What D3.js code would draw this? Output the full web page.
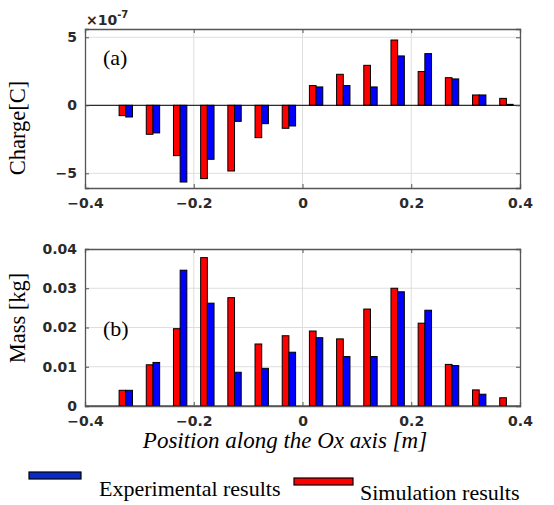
<!DOCTYPE html>
<html><head><meta charset="utf-8">
<script src="https://cdn.jsdelivr.net/npm/d3@7"></script>
<style>body{margin:0;background:#fff}</style>
</head><body>
<svg id="c" width="554" height="505"></svg>
<script>
const positions = [-0.325,-0.275,-0.225,-0.175,-0.125,-0.075,-0.025,0.025,0.075,0.125,0.175,0.225,0.275,0.325,0.375];
const chargeSim = [-0.76,-2.13,-3.70,-5.39,-4.83,-2.38,-1.69,1.45,2.28,2.94,4.80,2.48,2.03,0.76,0.51];
const chargeExp = [-0.86,-2.03,-5.64,-3.97,-1.18,-1.35,-1.52,1.35,1.45,1.35,3.63,3.80,1.94,0.76,0.07];
const massSim = [0.0040,0.0105,0.0197,0.0378,0.0276,0.0158,0.0179,0.0191,0.0171,0.0247,0.0300,0.0211,0.0106,0.0041,0.0021];
const massExp = [0.0040,0.0111,0.0346,0.0262,0.0086,0.0096,0.0137,0.0174,0.0126,0.0126,0.0291,0.0244,0.0103,0.0030,0.0000];
const xTicks = [-0.4,-0.2,0,0.2,0.4];
const chargeTicks = [-5,0,5];
const massTicks = [0,0.01,0.02,0.03,0.04];

const SERIF = "'Liberation Serif', 'Times New Roman', serif";
const SANS = "'DejaVu Sans', sans-serif";
const svg = d3.select("#c");
const L = 85, R = 520;
const x = d3.scaleLinear().domain([-0.4,0.4]).range([L,R]);
const bw = x(0.0123) - x(0);

function panel(top, bottom, ydom, yticks, fmt, sim, exp, label, ylabel, ylabelY, xpad){
  const y = d3.scaleLinear().domain(ydom).range([bottom, top]);
  const g = svg.append("g");
  g.selectAll(".gx").data(xTicks.slice(1,-1)).join("line")
    .attr("x1",d=>x(d)).attr("x2",d=>x(d)).attr("y1",top).attr("y2",bottom)
    .attr("stroke","#dedede").attr("stroke-width",1);
  g.selectAll(".gy").data(yticks.filter(v=>y(v)>top+1 && y(v)<bottom-1)).join("line")
    .attr("y1",d=>y(d)).attr("y2",d=>y(d)).attr("x1",L).attr("x2",R)
    .attr("stroke","#dedede").attr("stroke-width",1);
  const y0 = y(0);
  g.selectAll(".bs").data(sim).join("rect")
    .attr("x",(d,i)=>x(positions[i]) - bw)
    .attr("width",bw)
    .attr("y",d=>Math.min(y(d),y0)).attr("height",d=>Math.abs(y(d)-y0))
    .attr("fill","#ff0000").attr("stroke","#000").attr("stroke-width",1);
  g.selectAll(".be").data(exp).join("rect")
    .attr("x",(d,i)=>x(positions[i]))
    .attr("width",bw)
    .attr("y",d=>Math.min(y(d),y0)).attr("height",d=>Math.abs(y(d)-y0))
    .attr("fill","#0000ff").attr("stroke","#000").attr("stroke-width",1);
  g.append("line").attr("x1",L).attr("x2",R).attr("y1",y0).attr("y2",y0)
    .attr("stroke","#000").attr("stroke-width",1);
  const ax = g.append("g").attr("transform",`translate(0,${bottom})`)
    .call(d3.axisBottom(x).tickValues(xTicks).tickSize(-4).tickPadding(xpad).tickFormat(d=>d===0?"0":d3.format(".1f")(d)));
  const axT = g.append("g").attr("transform",`translate(0,${top})`)
    .call(d3.axisTop(x).tickValues(xTicks).tickSize(-4).tickFormat(""));
  const ay = g.append("g").attr("transform",`translate(${L},0)`)
    .call(d3.axisLeft(y).tickValues(yticks).tickSize(-4).tickPadding(8).tickFormat(fmt));
  const ayR = g.append("g").attr("transform",`translate(${R},0)`)
    .call(d3.axisRight(y).tickValues(yticks).tickSize(-4).tickFormat(""));
  [ax,axT,ay,ayR].forEach(a=>{
    a.select(".domain").attr("stroke","#555").attr("stroke-width",1.3);
    a.selectAll(".tick line").attr("stroke","#555");
    a.selectAll("text").attr("font-family",SANS)
      .attr("font-weight","bold").attr("font-size",14).attr("fill","#2a2a2a");
  });
  g.append("text").attr("x",103).attr("y",label.y).text(label.t)
    .attr("font-family",SERIF).attr("font-size",22);
  g.append("text").attr("transform",`translate(25,${ylabelY}) rotate(-90)`)
    .attr("text-anchor","middle").text(ylabel)
    .attr("font-family",SERIF).attr("font-size",22.5);
  return y;
}

panel(29, 188, [-6.08,5.61], chargeTicks, d=>d3.format("d")(d), chargeSim, chargeExp, {t:"(a)",y:65}, "Charge[C]", 128, 10);
panel(249, 406, [0,0.04], massTicks, d=>d===0?"0":d3.format(".2f")(d), massSim, massExp, {t:"(b)",y:336}, "Mass [kg]", 318, 10);

const ex = svg.append("text").attr("x",86).attr("y",25)
  .attr("font-family",SANS).attr("font-weight","bold").attr("font-size",14).attr("fill","#2a2a2a");
ex.append("tspan").text("×10");
ex.append("tspan").text("-7").attr("font-size",10).attr("dy",-7);

svg.append("text").attr("x",285).attr("y",448).attr("text-anchor","middle")
  .attr("font-family",SERIF).attr("font-style","italic").attr("font-size",23)
  .text("Position along the Ox axis [m]");

svg.append("rect").attr("x",29).attr("y",472).attr("width",52).attr("height",7)
  .attr("fill","#0a2ac8").attr("stroke","#000").attr("stroke-width",1.2);
svg.append("text").attr("x",99).attr("y",496).text("Experimental results")
  .attr("font-family",SERIF).attr("font-size",22);
svg.append("rect").attr("x",294).attr("y",478).attr("width",59).attr("height",7)
  .attr("fill","#ff0000").attr("stroke","#000").attr("stroke-width",1.2);
svg.append("text").attr("x",360).attr("y",500).text("Simulation results")
  .attr("font-family",SERIF).attr("font-size",22);
</script>
</body></html>
